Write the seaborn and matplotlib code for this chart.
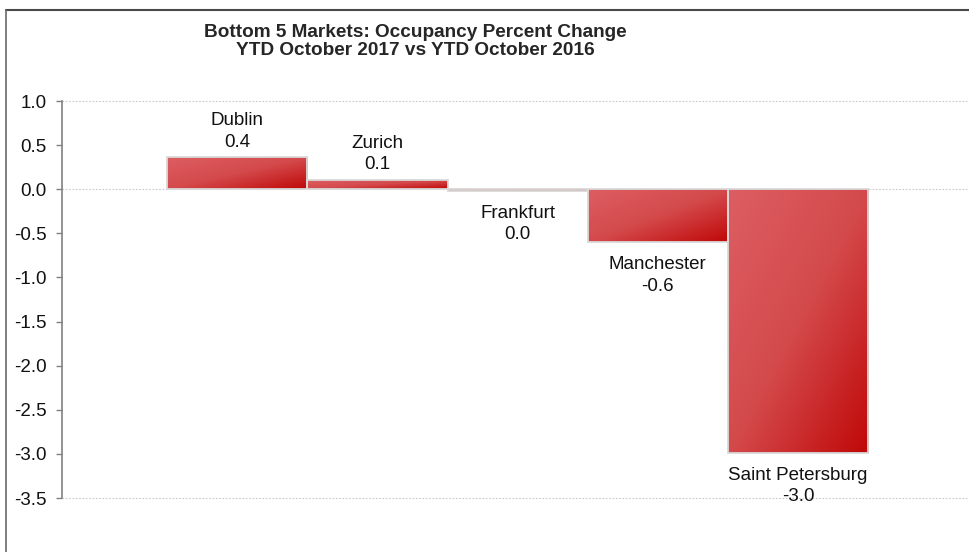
import numpy as np
import pandas as pd
import matplotlib
matplotlib.use("Agg")
import matplotlib.pyplot as plt
from matplotlib.colors import LinearSegmentedColormap
from matplotlib.lines import Line2D
import seaborn as sns

# data
markets = ["Dublin", "Zurich", "Frankfurt", "Manchester", "Saint Petersburg"]
occ_change = [0.36, 0.10, -0.02, -0.60, -2.99]

df = pd.DataFrame({"Market": markets, "Change": occ_change})

sns.set_style("white")
plt.rcParams["font.family"] = ["Liberation Sans", "DejaVu Sans"]

fig = plt.figure(figsize=(9.69, 5.52), dpi=100)
ax = fig.add_axes([62 / 969, 1 - 498 / 552, 1 - 62 / 969, (498 - 101) / 552])

sns.barplot(data=df, x="Market", y="Change", width=1.0, ax=ax,
            color="#cc2222", edgecolor="#d9d9d9", linewidth=1.3, saturation=1)

ax.set_xlim(-1.25, 5.22)
ax.set_ylim(-3.5, 1.0)

# diagonal gradient fill: light top-left -> dark bottom-right
grad_cmap = LinearSegmentedColormap.from_list("redgrad", ["#dc5e62", "#d44a4c", "#c00808"])
n = 64
u = np.linspace(0, 1, n)
gx, gy = np.meshgrid(u, u)
grad = (gx + gy) / 2
for p in ax.patches:
    x0, y0 = p.get_x(), p.get_y()
    w, h = p.get_width(), p.get_height()
    ylo, yhi = min(y0, y0 + h), max(y0, y0 + h)
    im = ax.imshow(grad, cmap=grad_cmap, extent=[x0, x0 + w, ylo, yhi],
                   origin="upper", aspect="auto", zorder=2, interpolation="bilinear")
    im.set_clip_path(p)
    p.set_facecolor("none")
    p.set_zorder(3)

ax.set_xlim(-1.25, 5.22)
ax.set_ylim(-3.5, 1.0)

# dotted reference lines
for yv in [1.0, 0.0, -3.5]:
    ax.axhline(yv, color="#c8c8c8", lw=0.8, ls=(0, (1.5, 1.5)), zorder=1, clip_on=False)

# labels: name + value, above positive bars, below negative ones
for i, (name, v) in enumerate(zip(markets, occ_change)):
    txt = f"{name}\n{round(v, 1) + 0.0:.1f}"
    if v >= 0:
        ax.annotate(txt, (i, v), xytext=(0, 5), textcoords="offset points",
                    ha="center", va="bottom", fontsize=13.5, color="#111111",
                    linespacing=1.35)
    else:
        ax.annotate(txt, (i, v), xytext=(0, -10), textcoords="offset points",
                    ha="center", va="top", fontsize=13.5, color="#111111",
                    linespacing=1.35)

ticks = np.arange(-3.5, 1.01, 0.5)
ax.set_yticks(ticks)
ax.set_yticklabels([f"{t:.1f}" for t in ticks])
ax.set_xticks([])
ax.set_xlabel("")
ax.set_ylabel("")
for s in ["top", "right", "bottom"]:
    ax.spines[s].set_visible(False)
ax.spines["left"].set_color("#808080")
ax.spines["left"].set_linewidth(1.2)
ax.tick_params(axis="y", direction="out", length=4, width=1, color="#808080",
               pad=7, labelsize=13.5, labelcolor="#111111", left=True)

fig.text(415 / 969, 1 - 41.5 / 552,
         "Bottom 5 Markets: Occupancy Percent Change\nYTD October 2017 vs YTD October 2016",
         ha="center", va="center", fontsize=13.7, fontweight="bold", linespacing=1.15)

# outer frame (only top and left visible in the crop)
fig.add_artist(Line2D([6 / 969, 1], [1 - 10 / 552, 1 - 10 / 552], transform=fig.transFigure,
                      color="#4a4a4a", lw=1.5))
fig.add_artist(Line2D([6 / 969, 6 / 969], [0, 1 - 10 / 552], transform=fig.transFigure,
                      color="#6a6a6a", lw=1.2))

fig.savefig("out.png", dpi=100)
